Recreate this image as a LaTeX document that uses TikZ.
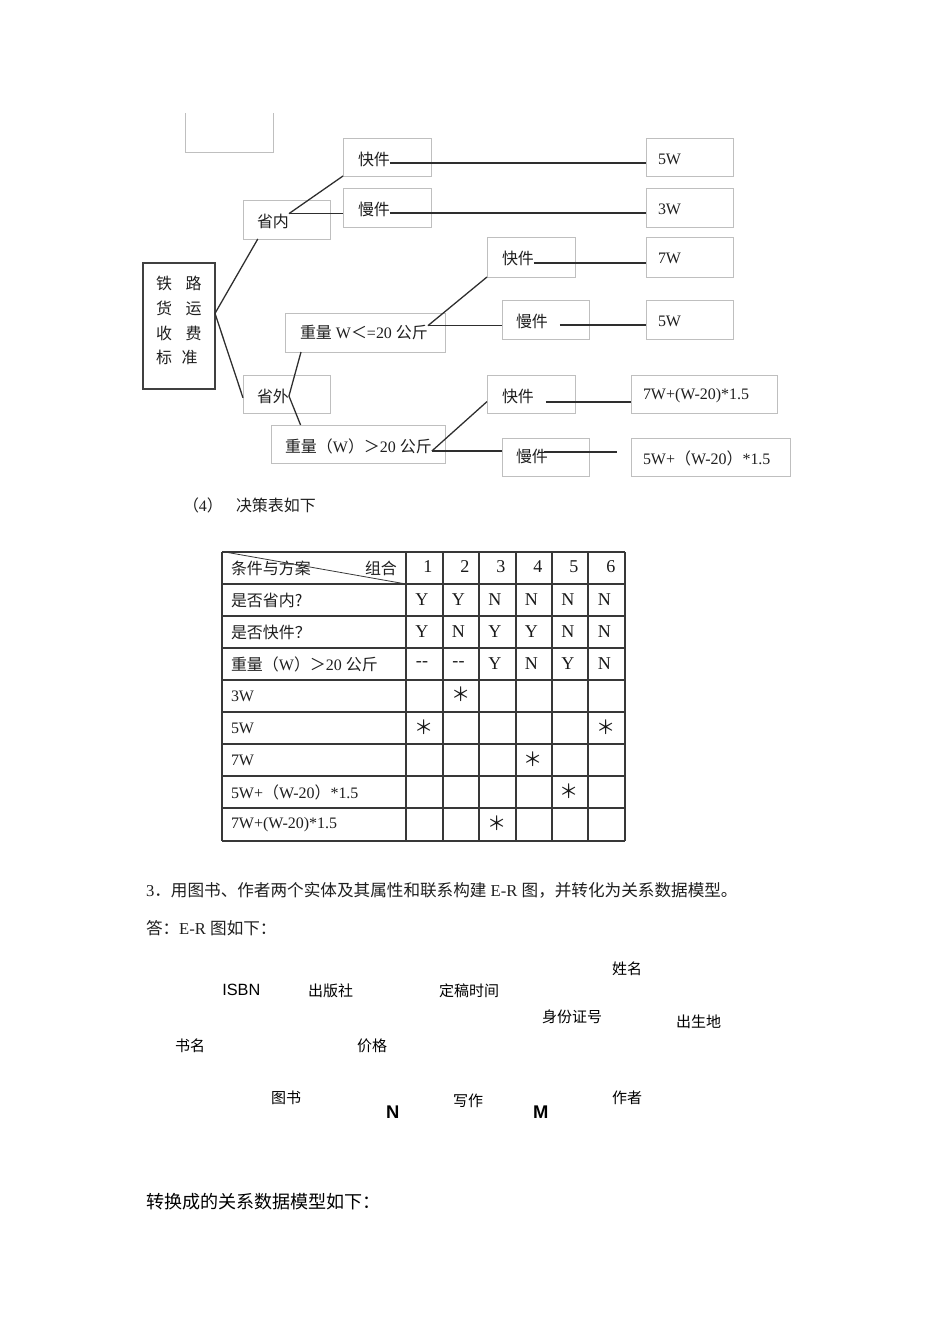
\documentclass[tikz,border=0pt]{standalone}
\usepackage{fontspec}
\setmainfont{Liberation Serif}
\newfontfamily\cjk{Noto Sans CJK SC}
\newfontfamily\arial{Liberation Sans}
\usetikzlibrary{calc}
\newcommand{\fs}[1]{\fontsize{#1}{#1}\selectfont}
\newcommand{\bxn}[6][bx]{\node[#1,minimum width={(#5-#3)*0.626pt},minimum height={(#6-#4)*0.626pt}] (#2) at ({(#3+#5)/2},{(#4+#6)/2}) {};}
\begin{document}
\begin{tikzpicture}[x=0.626pt,y=-0.626pt,
  bx/.style={draw=black!25,line width=0.55pt,inner sep=0pt,outer sep=0pt},
  rootbox/.style={draw=black!75,line width=0.9pt,inner sep=0pt,outer sep=0pt},
  lat/.style={anchor=west,inner sep=0pt,outer sep=0pt,text=black!88,font=\fs{10}},
  zh/.style={anchor=west,inner sep=0pt,outer sep=0pt,text=black!88,font=\cjk\fs{10}},
  er/.style={anchor=west,inner sep=0pt,outer sep=0pt,text=black,font=\cjk\fs{9.4}},
  erb/.style={anchor=west,inner sep=0pt,outer sep=0pt,text=black,font=\arial\bfseries\fs{11.5}},
  cell/.style={inner sep=0pt,outer sep=0pt,text=black!90,font=\fs{11.3}},
  star/.style={inner sep=0pt,outer sep=0pt,text=black!90,font=\cjk\fs{12}},
  conn/.style={draw=black!82,line width=0.8pt},
  tline/.style={draw=black!78,line width=0.75pt},
  openbox/.style={draw=black!25,line width=0.55pt}]
\useasboundingbox (0,0) rectangle (950,1344);
\fill[white] (0,0) rectangle (950,1344);

% ---------- decision tree ----------
\draw[openbox] (185,113) -- (185,152) -- (273,152) -- (273,113);

\bxn{b-kj1}{343}{138}{431}{176}
\bxn{b-mj1}{343}{188}{431}{227}
\bxn{b-5w1}{646}{138}{733}{176}
\bxn{b-3w}{646}{188}{733}{227}
\bxn{b-sn}{243}{200}{330}{239}
\bxn[rootbox]{b-root}{143}{263}{215}{389}
\bxn{b-kj2}{487}{237}{575}{277}
\bxn{b-7w}{646}{237}{733}{277}
\bxn{b-w1}{285}{313}{445}{352}
\bxn{b-mj2}{502}{300}{589}{339}
\bxn{b-5w2}{646}{300}{733}{339}
\bxn{b-sw}{243}{375}{330}{413}
\bxn{b-kj3}{487}{375}{575}{413}
\bxn{b-7wp}{631}{375}{777}{413}
\bxn{b-w2}{271}{425}{445}{463}
\bxn{b-mj3}{502}{438}{589}{476}
\bxn{b-5wp}{631}{438}{790}{476}

\node[zh] (t-kj1) at (358,159) {快件};
\node[zh] (t-mj1) at (358,209) {慢件};
\node[lat] (t-5w1) at (658,159) {5W};
\node[lat] (t-3w) at (658,209) {3W};
\node[zh] (t-sn) at (257,221) {省内};
\node[zh] (t-kj2) at (502,258) {快件};
\node[lat] (t-7w) at (658,258) {7W};
\node[lat] (t-w1) at (300,333) {{\cjk 重量} W{\cjk ＜}=20 {\cjk 公斤}};
\node[zh] (t-mj2) at (516,321) {慢件};
\node[lat] (t-5w2) at (658,321) {5W};
\node[zh] (t-sw) at (257,396) {省外};
\node[zh] (t-kj3) at (502,396) {快件};
\node[lat] (t-7wp) at (643,396) {7W+(W-20)*1.5};
\node[lat] (t-w2) at (285,446) {{\cjk 重量（}W{\cjk ）＞}20 {\cjk 公斤}};
\node[zh] (t-mj3) at (516,456) {慢件};
\node[lat] (t-5wp) at (643,458) {5W+{\cjk （}W-20{\cjk ）}*1.5};

\node[zh] (r1) at (156,283) {铁\hspace{0.85em}路};
\node[zh] (r2) at (156,308) {货\hspace{0.85em}运};
\node[zh] (r3) at (156,333) {收\hspace{0.85em}费};
\node[zh] (r4) at (156,357) {标\hspace{0.6em}准};

\coordinate (j-root) at ($(b-root.north east)!0.4!(b-root.south east)$);
\draw[conn] (j-root) -- ($(b-sn.south west)!0.17!(b-sn.south east)$);
\draw[conn] (j-root) -- ($(b-sw.north west)!0.6!(b-sw.south west)$);

\draw[conn] (t-sn.north east) -- (b-kj1.south west);
\draw[conn] (t-sn.north east) -- (t-sn.north east -| b-mj1.west);

\draw[conn] (t-sw.east) -- ($(b-w1.south west)!0.1!(b-w1.south east)$);
\draw[conn] (t-sw.east) -- ($(b-w2.north west)!0.17!(b-w2.north east)$);

\draw[conn] (t-w1.north east) -- (b-kj2.south west);
\draw[conn] (t-w1.north east) -- (t-w1.north east -| b-mj2.west);

\coordinate (j-w2) at ($(t-w2.east)+(0,5)$);
\draw[conn] (j-w2) -- ($(b-kj3.north west)!0.7!(b-kj3.south west)$);
\draw[conn] (j-w2) -- (j-w2 -| b-mj3.west);

\draw[conn] ($(t-kj1.east)+(0,4)$) -- ($(t-kj1.east -| b-5w1.west)+(0,4)$);
\draw[conn] ($(t-mj1.east)+(0,4)$) -- ($(t-mj1.east -| b-3w.west)+(0,4)$);
\draw[conn] ($(t-kj2.east)+(0,5)$) -- ($(t-kj2.east -| b-7w.west)+(0,5)$);
\draw[conn] ($(t-mj2.east)+(12,4)$) -- ($(t-mj2.east -| b-5w2.west)+(0,4)$);
\draw[conn] ($(t-kj3.east)+(12,6)$) -- ($(t-kj3.east -| b-7wp.west)+(0,6)$);
\coordinate (e-mj3) at (617,452);
\draw[conn] ($(t-mj3.east)+(-4,-4)$) -- (e-mj3);

% ---------- decision table ----------
\node[lat] (h4) at (183,505) {{\cjk （}4{\cjk ）}};
\node[zh] (h4b) at (236,505) {决策表如下};

\foreach \y in {552,584,616,648,680,712,744,776,808,841}
  \draw[tline] (222,\y) -- (625,\y);
\foreach \x in {222,406,443,479,516,552,588,625}
  \draw[tline] (\x,552) -- (\x,841);
\draw[draw=black!78,line width=0.5pt] (225,552) -- (406,584);

\node[zh] (c-h1) at (231,568) {条件与方案};
\node[zh] (c-h2) at (365,568) {组合};
\foreach \n/\x in {1/428,2/465,3/501,4/538,5/574,6/611}
  \node[cell] (c-n\n) at (\x,567) {\n};

\node[zh] (c-r1) at (231,600) {是否省内?};
\node[zh] (c-r2) at (231,632) {是否快件？};
\node[lat] (c-r3) at (231,664) {{\cjk 重量（}W{\cjk ）＞}20 {\cjk 公斤}};
\node[lat] (c-r4) at (231,696) {3W};
\node[lat] (c-r5) at (231,728) {5W};
\node[lat] (c-r6) at (231,760) {7W};
\node[lat] (c-r7) at (231,792) {5W+{\cjk （}W-20{\cjk ）}*1.5};
\node[lat] (c-r8) at (231,825) {7W+(W-20)*1.5};

\foreach \v [count=\i] in {Y,Y,N,N,N,N}
  \node[cell] (c-a\i) at ({385.5+36.5*\i},600) {\v};
\foreach \v [count=\i] in {Y,N,Y,Y,N,N}
  \node[cell] (c-b\i) at ({385.5+36.5*\i},632) {\v};
\foreach \v [count=\i] in {-{}-,-{}-,Y,N,Y,N}
  \node[cell] (c-c\i) at ({385.5+36.5*\i},664) {\v};

\node[star] (s1) at (461,694) {＊};
\node[star] (s2) at (424,727) {＊};
\node[star] (s3) at (606,727) {＊};
\node[star] (s4) at (533,759) {＊};
\node[star] (s5) at (569,791) {＊};
\node[star] (s6) at (497,823) {＊};

% ---------- E-R section ----------
\node[lat,font=\fs{10.4}] (q3) at (146,890) {3{\cjk ．用图书、作者两个实体及其属性和联系构建} E-R {\cjk 图，并转化为关系数据模型。}};
\node[lat,font=\fs{10.4}] (ans) at (146,928) {{\cjk 答：}E-R {\cjk 图如下：}};

\node[er] (e-xm) at (612,969) {姓名};
\node[anchor=west,inner sep=0pt,font=\arial\fs{10.2}] (e-isbn) at (222,990) {ISBN};
\node[er] (e-cbs) at (308,991) {出版社};
\node[er] (e-dg) at (439,991) {定稿时间};
\node[er] (e-sfz) at (542,1017) {身份证号};
\node[er] (e-csd) at (676,1022) {出生地};
\node[er] (e-sm) at (175,1046) {书名};
\node[er] (e-jg) at (357,1046) {价格};
\node[er] (e-ts) at (271,1098) {图书};
\node[erb] (e-n) at (386,1112) {N};
\node[er] (e-xz) at (453,1101) {写作};
\node[erb] (e-m) at (533,1112) {M};
\node[er] (e-zz) at (612,1098) {作者};

\node[anchor=west,inner sep=0pt,font=\cjk\fs{11.3}] (tail) at (146,1202) {转换成的关系数据模型如下：};
\end{tikzpicture}
\end{document}
